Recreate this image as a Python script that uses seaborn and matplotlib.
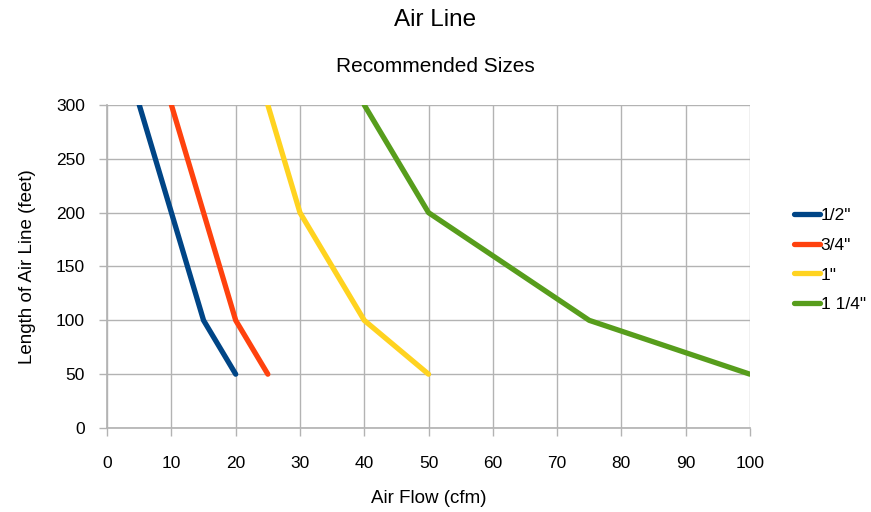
import matplotlib
matplotlib.use("Agg")
import matplotlib.pyplot as plt
import seaborn as sns
import pandas as pd

sizes = ['1/2"', '3/4"', '1"', '1 1/4"']
flow_half = [20, 15, 10, 5]
len_half = [50, 100, 200, 300]
flow_3q = [25, 20, 15, 10]
len_3q = [50, 100, 200, 300]
flow_1 = [50, 40, 30, 25]
len_1 = [50, 100, 200, 300]
flow_114 = [100, 75, 50, 40]
len_114 = [50, 100, 200, 300]
colors = ["#004586", "#ff420e", "#ffd320", "#579d1c"]
x_ticks = list(range(0, 101, 10))
y_ticks = list(range(0, 301, 50))

rows = []
for name, xs, ys in zip(sizes, [flow_half, flow_3q, flow_1, flow_114],
                        [len_half, len_3q, len_1, len_114]):
    for x, y in zip(xs, ys):
        rows.append({"size": name, "flow": x, "length": y})
df = pd.DataFrame(rows)

sns.set_theme(style="white")
plt.rcParams['font.family'] = ['Liberation Sans', 'DejaVu Sans']
plt.rcParams['text.color'] = 'black'
plt.rcParams['axes.labelcolor'] = 'black'

fig = plt.figure(figsize=(8.71, 5.12), dpi=100)
ax = fig.add_axes([0.123, 0.164, 0.738, 0.631])
sns.lineplot(data=df, x="flow", y="length", hue="size", hue_order=sizes,
             palette=colors, linewidth=3.8, sort=False, ax=ax, legend=True)

ax.set_xlim(0, 100)
ax.set_ylim(0, 300)
ax.set_xticks(x_ticks)
ax.set_yticks(y_ticks)
ax.grid(True, color="#b3b3b3", linewidth=1)
ax.set_axisbelow(True)
for s in ax.spines.values():
    s.set_visible(False)
ax.spines['left'].set_visible(True)
ax.spines['bottom'].set_visible(True)
ax.spines['left'].set_color("#b3b3b3")
ax.spines['bottom'].set_color("#b3b3b3")
ax.tick_params(axis='both', which='both', length=6, width=1, color="#b3b3b3",
               labelsize=12.5, labelcolor="#000000", direction='out',
               bottom=True, left=True)
ax.tick_params(axis='x', pad=14)
ax.tick_params(axis='y', pad=10)
ax.set_xlabel("Air Flow (cfm)", fontsize=13.5, labelpad=14)
ax.set_ylabel("Length of Air Line (feet)", fontsize=13.5, labelpad=14)

fig.text(0.5, 0.96, "Air Line", ha="center", va="center", fontsize=17.5)
fig.text(0.5, 0.871, "Recommended Sizes", ha="center", va="center", fontsize=15)

leg = ax.legend(loc="center left", bbox_to_anchor=(1.045, 0.52), frameon=False,
                fontsize=12.5, handlelength=1.45, handletextpad=0.05,
                labelspacing=0.85, borderaxespad=0.5)
for line in leg.get_lines():
    line.set_linewidth(3.8)

fig.savefig("out.png", dpi=100)
